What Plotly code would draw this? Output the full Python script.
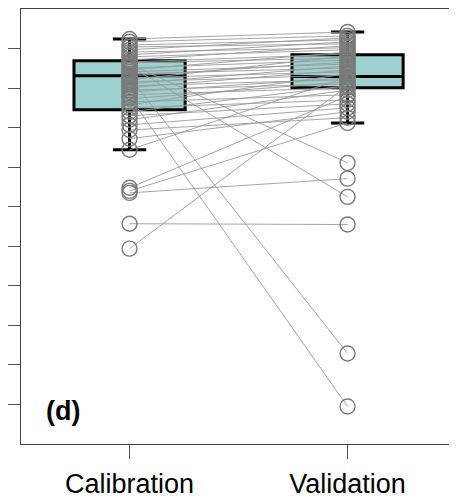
import plotly.graph_objects as go

categories = ["Calibration", "Validation"]

calibration = [10.24, 10.17, 10.09, 10.04, 9.97, 9.91, 9.84, 9.79, 9.71, 9.66,
               9.61, 9.56, 9.64, 9.51, 9.46, 9.41, 9.36, 9.31, 9.28, 9.26,
               9.21, 9.16, 9.11, 9.06, 9.01, 8.95, 8.90, 8.83, 8.78, 8.73,
               8.65, 8.58, 8.50, 8.40, 8.30, 8.20, 8.07, 7.94, 7.72, 7.44,
               6.48, 6.35, 5.57, 4.94, 6.40]
validation = [10.42, 10.32, 10.22, 10.12, 10.27, 10.02, 10.17, 9.97, 10.07, 9.86,
              7.11, 6.25, 9.76, 9.71, 9.91, 9.61, 9.51, 9.66, 2.29, 9.41,
              9.81, 9.33, 9.56, 9.21, 9.46, 9.11, 9.26, 9.01, 0.95, 9.16,
              8.83, 9.36, 8.70, 9.06, 8.60, 8.95, 8.50, 8.25, 8.40, 9.28,
              8.80, 6.71, 5.55, 9.06, 8.12]

# box statistics
box_q1 = [8.45, 9.01]
box_median = [9.31, 9.29]
box_q3 = [9.69, 9.84]
box_lower = [7.44, 8.12]
box_upper = [10.24, 10.42]

y_ticks = [1, 2, 3, 4, 5, 6, 7, 8, 9, 10]

fig = go.Figure()

for i in range(2):
    fig.add_trace(go.Box(
        x=[i], q1=[box_q1[i]], median=[box_median[i]], q3=[box_q3[i]],
        lowerfence=[box_lower[i]], upperfence=[box_upper[i]],
        width=0.51, whiskerwidth=0.3, boxpoints=False,
        fillcolor="#9DD1D1", line=dict(color="black", width=3),
        showlegend=False, hoverinfo="skip"))

lx, ly = [], []
for c, v in zip(calibration, validation):
    lx += [0, 1, None]
    ly += [c, v, None]
fig.add_trace(go.Scatter(x=lx, y=ly, mode="lines",
                         line=dict(color="#9a9a9a", width=0.9),
                         showlegend=False, hoverinfo="skip"))

fig.add_trace(go.Scatter(x=[0] * len(calibration), y=calibration, mode="markers",
                         marker=dict(symbol="circle-open", size=15, color="#7a7a7a",
                                     line=dict(width=1.4, color="#7a7a7a")),
                         showlegend=False))
fig.add_trace(go.Scatter(x=[1] * len(validation), y=validation, mode="markers",
                         marker=dict(symbol="circle-open", size=15, color="#7a7a7a",
                                     line=dict(width=1.4, color="#7a7a7a")),
                         showlegend=False))

fig.add_annotation(text="<b>(d)</b>", xref="paper", yref="paper",
                   x=0.052, y=0.076, xanchor="left", yanchor="middle",
                   showarrow=False, font=dict(size=27, color="black",
                                               family="Liberation Sans, Arial"))

fig.update_layout(
    width=449, height=493,
    margin=dict(l=13, r=0, t=1, b=57, autoexpand=False),
    paper_bgcolor="white", plot_bgcolor="white",
    font=dict(family="Liberation Sans, Arial", color="black"),
    xaxis=dict(range=[-0.498, 1.502], tickvals=[0, 1], ticktext=categories,
               ticks="outside", ticklen=14, tickcolor="#555", tickwidth=1,
               showline=True, linecolor="#444", linewidth=1, mirror=True,
               showgrid=False, zeroline=False,
               tickfont=dict(size=27, color="black"), ticklabelstandoff=2),
    yaxis=dict(range=[0, 11], tickvals=y_ticks, showticklabels=False,
               ticks="outside", ticklen=14, tickcolor="#555", tickwidth=1,
               showline=True, linecolor="#444", linewidth=1,
               showgrid=False, zeroline=False),
)

fig.write_html("out.html")
